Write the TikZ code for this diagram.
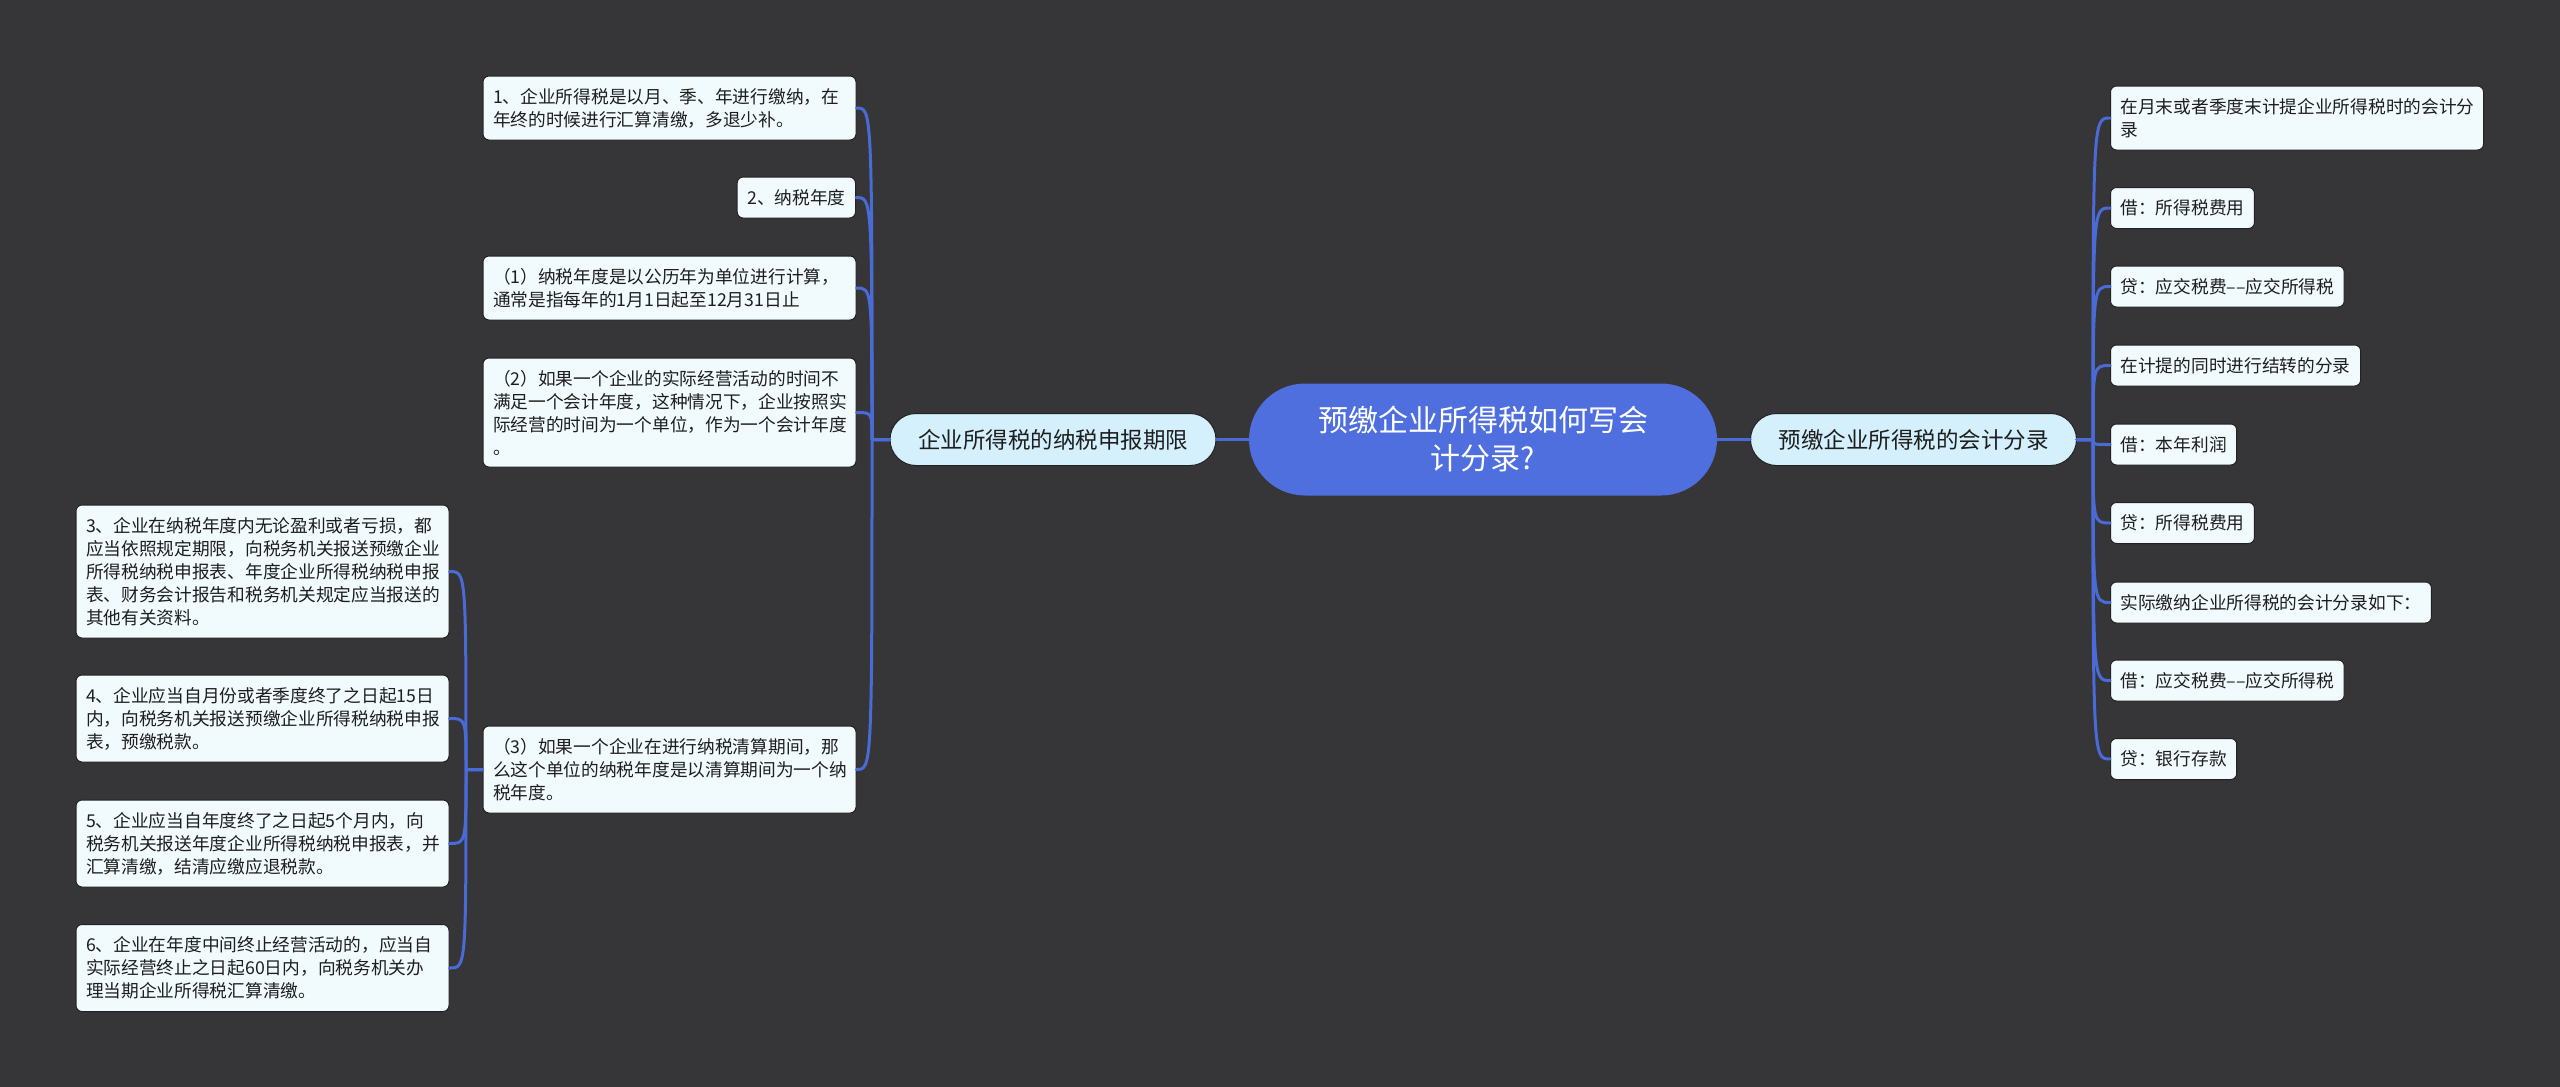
\documentclass[tikz,border=0pt]{standalone}
\usepackage{fontspec}
\setmainfont{Noto Sans CJK SC}
\definecolor{bgc}{HTML}{363538}
\definecolor{leaffill}{HTML}{F1FBFE}
\definecolor{leafborder}{HTML}{222222}
\definecolor{leaftext}{HTML}{1E1E1E}
\definecolor{branchfill}{HTML}{D3F0FC}
\definecolor{rootfill}{HTML}{4F6FDF}
\definecolor{connc}{HTML}{4A6AD6}
\begin{document}
\begin{tikzpicture}[x=0.5pt,y=-0.5pt,
  leaf/.style={draw=leafborder, line width=0.5pt, fill=leaffill, rounded corners=3pt,
    inner xsep=5pt, inner ysep=0pt, text=leaftext, align=left,
    font=\fontsize{8.85pt}{11.5pt}\selectfont},
  leafw/.style={leaf, text width=176.5pt},
  leafone/.style={leaf, minimum height=20.5pt},
  branchbox/.style={draw=leafborder, line width=0.5pt, fill=branchfill, rounded corners=13pt,
    minimum width=163pt, minimum height=26pt, inner sep=0pt, text=leaftext,
    font=\fontsize{11.25pt}{14pt}\selectfont},
  rootbox/.style={fill=rootfill, rounded corners=28pt, minimum width=234pt, minimum height=56pt,
    inner sep=0pt, text=white, align=center, font=\fontsize{15pt}{19pt}\selectfont},
  conn/.style={draw=connc, line width=1.5pt, line cap=round, line join=round}
]
\fill[bgc] (0,0) rectangle (2560,1087);
\useasboundingbox (0,0) rectangle (2560,1087);

% root and branches
\node[rootbox] (root) at (1483,439.5) {预缴企业所得税如何写会\\计分录?};
\node[branchbox] (L) at (1053,439.5) {企业所得税的纳税申报期限};
\node[branchbox] (R) at (1913.5,439.5) {预缴企业所得税的会计分录};

% left column A
\node[leafw, minimum height=32pt] (b1) at (669.5,108) {1、企业所得税是以月、季、年进行缴纳，在\\年终的时候进行汇算清缴，多退少补。};
\node[leafone, anchor=east] (b2) at (856,197.5) {2、纳税年度};
\node[leafw, minimum height=32pt] (b3) at (669.5,288) {（1）纳税年度是以公历年为单位进行计算，\\通常是指每年的1月1日起至12月31日止};
\node[leafw, minimum height=54.5pt] (b4) at (669.5,412.5) {（2）如果一个企业的实际经营活动的时间不\\满足一个会计年度，这种情况下，企业按照实\\际经营的时间为一个单位，作为一个会计年度\\。};
\node[leafw, minimum height=43.5pt] (b5) at (669.5,769.5) {（3）如果一个企业在进行纳税清算期间，那\\么这个单位的纳税年度是以清算期间为一个纳\\税年度。};

% left column B
\node[leafw, minimum height=66.5pt] (c3) at (262.5,571.5) {3、企业在纳税年度内无论盈利或者亏损，都\\应当依照规定期限，向税务机关报送预缴企业\\所得税纳税申报表、年度企业所得税纳税申报\\表、财务会计报告和税务机关规定应当报送的\\其他有关资料。};
\node[leafw, minimum height=43.5pt] (c4) at (262.5,718.5) {4、企业应当自月份或者季度终了之日起15日\\内，向税务机关报送预缴企业所得税纳税申报\\表，预缴税款。};
\node[leafw, minimum height=43.5pt] (c5) at (262.5,843.5) {5、企业应当自年度终了之日起5个月内，向\\税务机关报送年度企业所得税纳税申报表，并\\汇算清缴，结清应缴应退税款。};
\node[leafw, minimum height=43.5pt] (c6) at (262.5,968) {6、企业在年度中间终止经营活动的，应当自\\实际经营终止之日起60日内，向税务机关办\\理当期企业所得税汇算清缴。};

% right column
\node[leafw, minimum height=32pt] (r1) at (2297,118) {在月末或者季度末计提企业所得税时的会计分\\录};
\node[leafone, anchor=west] (r2) at (2110,208) {借：所得税费用};
\node[leafone, anchor=west] (r3) at (2110,286.5) {贷：应交税费––应交所得税};
\node[leafone, anchor=west] (r4) at (2110,365.5) {在计提的同时进行结转的分录};
\node[leafone, anchor=west] (r5) at (2110,444.5) {借：本年利润};
\node[leafone, anchor=west] (r6) at (2110,523) {贷：所得税费用};
\node[leafone, anchor=west] (r7) at (2110,602.5) {实际缴纳企业所得税的会计分录如下：};
\node[leafone, anchor=west] (r8) at (2110,680.5) {借：应交税费––应交所得税};
\node[leafone, anchor=west] (r9) at (2110,759) {贷：银行存款};

% trunk points
\coordinate (tL) at (872,439.5);
\coordinate (tS) at (466,769.5);
\coordinate (tR) at (2093,439.5);

% connectors
\draw[conn] (L.east) -- (root.west);
\draw[conn] (root.east) -- (R.west);
\foreach \c in {b1,b2,b3,b4,b5}
  \draw[conn] (L.west) -- (tL) .. controls (tL |- \c.east) and (tL |- \c.east) .. (\c.east);
\foreach \c in {c3,c4,c5,c6}
  \draw[conn] (b5.west) -- (tS) .. controls (tS |- \c.east) and (tS |- \c.east) .. (\c.east);
\foreach \c in {r1,r2,r3,r4,r5,r6,r7,r8,r9}
  \draw[conn] (R.east) -- (tR) .. controls (tR |- \c.west) and (tR |- \c.west) .. (\c.west);
\end{tikzpicture}
\end{document}
